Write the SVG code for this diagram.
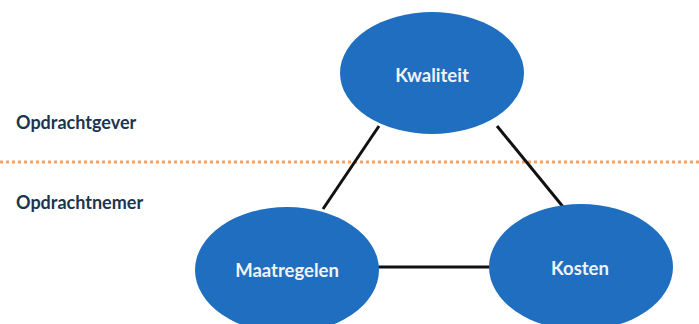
<svg xmlns="http://www.w3.org/2000/svg" width="699" height="324" viewBox="0 0 699 324">
<style>
.node{fill:#1F6EC0}
.nl{font-family:Lato,"Open Sans",sans-serif;font-weight:bold;font-size:18.5px;fill:#F2F2F7;text-anchor:middle;dominant-baseline:central}
.lbl{font-family:Lato,"Open Sans",sans-serif;font-weight:bold;font-size:18px;fill:#1C3550}
.conn{stroke:#111;stroke-width:3;fill:none}
</style>
<rect width="699" height="324" fill="#fff"/>
<line x1="0" y1="162" x2="699" y2="162" stroke="#F2A366" stroke-width="3" stroke-dasharray="3,3"/>
<text class="lbl" x="16" y="129">Opdrachtgever</text>
<text class="lbl" x="16" y="209">Opdrachtnemer</text>
<g id="connectors">
<line class="conn" x1="379" y1="126" x2="323" y2="209"/>
<line class="conn" x1="497" y1="126" x2="564" y2="208"/>
<line class="conn" x1="378" y1="267" x2="490" y2="267"/>
</g>
<g id="kwaliteit">
<ellipse class="node" cx="432" cy="73" rx="92" ry="61"/>
<text class="nl" x="432" y="75">Kwaliteit</text>
</g>
<g id="maatregelen">
<ellipse class="node" cx="287" cy="270" rx="92" ry="63"/>
<text class="nl" x="287" y="270">Maatregelen</text>
</g>
<g id="kosten">
<ellipse class="node" cx="581" cy="267" rx="92" ry="63"/>
<text class="nl" x="580" y="268">Kosten</text>
</g>
</svg>
